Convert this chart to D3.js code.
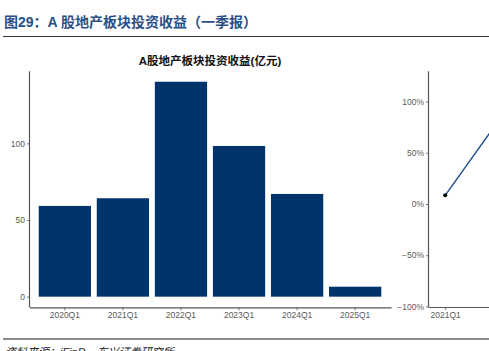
<!DOCTYPE html>
<html>
<head>
<meta charset="utf-8">
<script src="https://cdn.jsdelivr.net/npm/d3@7"></script>
<style>
  html, body { margin: 0; padding: 0; background: #fff; overflow: hidden; }
  svg { display: block; }
  text { font-family: "Liberation Sans", "Noto Sans CJK SC", sans-serif; }
</style>
</head>
<body>
<svg id="chart" width="489" height="351"></svg>
<script>
// data
var quarters = ["2020Q1", "2021Q1", "2022Q1", "2023Q1", "2024Q1", "2025Q1"];
var income = [59.2, 64.2, 140.2, 98.3, 67.0, 6.5];          // 亿元
var growthQuarters = ["2021Q1", "2022Q1", "2023Q1", "2024Q1", "2025Q1"];
var growth = [0.085, 1.19, -0.30, -0.32, -0.90];             // 同比
var leftTicks = [0, 50, 100];
var rightTicks = [-1, -0.5, 0, 0.5, 1];

var svg = d3.select("#chart");
var pageW = 489;
var axisColor = "#555555";
var labelColor = "#5a5a5a";
var barColor = "#01346a";

// page header
svg.append("text")
   .attr("x", 4).attr("y", 27)
   .style("font-size", "14px")
   .style("font-weight", 700)
   .style("fill", "#2a5088")
   .text("图29：A 股地产板块投资收益（一季报）");

svg.append("line")
   .attr("x1", 3).attr("x2", pageW).attr("y1", 36.5).attr("y2", 36.5)
   .attr("stroke", "#333").attr("stroke-width", 1);

// ---- left panel: bars ----
var x = d3.scaleBand()
          .domain(quarters)
          .range([30, 390])
          .paddingInner(0.1)
          .paddingOuter(0.15);

var y = d3.scaleLinear()
          .domain([-7, 147])
          .range([307.4, 71.3]);

svg.append("text")
   .attr("x", 210).attr("y", 65)
   .attr("text-anchor", "middle")
   .style("font-size", "11.5px")
   .style("font-weight", 700)
   .style("fill", "#111")
   .text("A股地产板块投资收益(亿元)");

svg.append("g")
   .selectAll("rect")
   .data(income)
   .enter()
   .append("rect")
   .attr("x", (d, i) => x(quarters[i]))
   .attr("width", x.bandwidth())
   .attr("y", d => y(d))
   .attr("height", d => y(0) - y(d))
   .attr("fill", barColor);

var yAxisL = svg.append("g")
   .attr("transform", "translate(30,0)")
   .call(d3.axisLeft(y).tickValues(leftTicks).tickSize(3).tickPadding(2));

var xAxisL = svg.append("g")
   .attr("transform", "translate(0,307.4)")
   .call(d3.axisBottom(x).tickSize(3).tickPadding(2));

// ---- right panel: growth line (panel runs past the page edge) ----
var xr = d3.scaleLinear()
           .domain([-0.2, 4.2])
           .range([429, 785]);

var yr = d3.scaleLinear()
           .domain([-1.005, 1.295])
           .range([307, 71.3]);

var line = d3.line()
             .x((d, i) => xr(i))
             .y(d => yr(d));

svg.append("path")
   .datum(growth)
   .attr("d", line)
   .attr("fill", "none")
   .attr("stroke", "#1f4e8c")
   .attr("stroke-width", 1.4);

svg.append("g")
   .selectAll("circle")
   .data(growth)
   .enter()
   .append("circle")
   .attr("cx", (d, i) => xr(i))
   .attr("cy", d => yr(d))
   .attr("r", 2)
   .attr("fill", "#000");

var yAxisR = svg.append("g")
   .attr("transform", "translate(429,0)")
   .call(d3.axisLeft(yr).tickValues(rightTicks).tickSize(3).tickPadding(2)
           .tickFormat(d3.format(".0%")));

// only label the quarters that land on the page
var visibleIdx = d3.range(growthQuarters.length).filter(i => xr(i) + 20 < pageW);
var xAxisR = svg.append("g")
   .attr("transform", "translate(0,307)")
   .call(d3.axisBottom(xr).tickValues(visibleIdx)
           .tickSize(3).tickPadding(2)
           .tickFormat(i => growthQuarters[i]));

// axis styling like ggplot classic
[yAxisL, xAxisL, yAxisR, xAxisR].forEach(function(g) {
    g.select(".domain").attr("stroke", axisColor).attr("stroke-width", 1.2);
    g.selectAll(".tick line").attr("stroke", axisColor).attr("stroke-width", 0.8);
    g.selectAll(".tick text")
     .style("font-size", "8.5px")
     .style("fill", labelColor);
});
// no outer tick caps on the axis lines
xAxisL.select(".domain").attr("d", "M30,0.5H391.7");
yAxisL.select(".domain").attr("d", "M-0.5,71.3V307.4");
yAxisR.select(".domain").attr("d", "M-0.5,71.3V307.4");
xAxisR.select(".domain").attr("d", "M429,0.5H" + pageW);

// footer
svg.append("line")
   .attr("x1", 3).attr("x2", pageW).attr("y1", 339).attr("y2", 339)
   .attr("stroke", "#8a8a8a").attr("stroke-width", 2);

svg.append("text")
   .attr("x", 5).attr("y", 356)
   .style("font-size", "11px")
   .style("font-style", "italic")
   .style("fill", "#222")
   .text("资料来源：iFinD，东兴证券研究所");
</script>
</body>
</html>
